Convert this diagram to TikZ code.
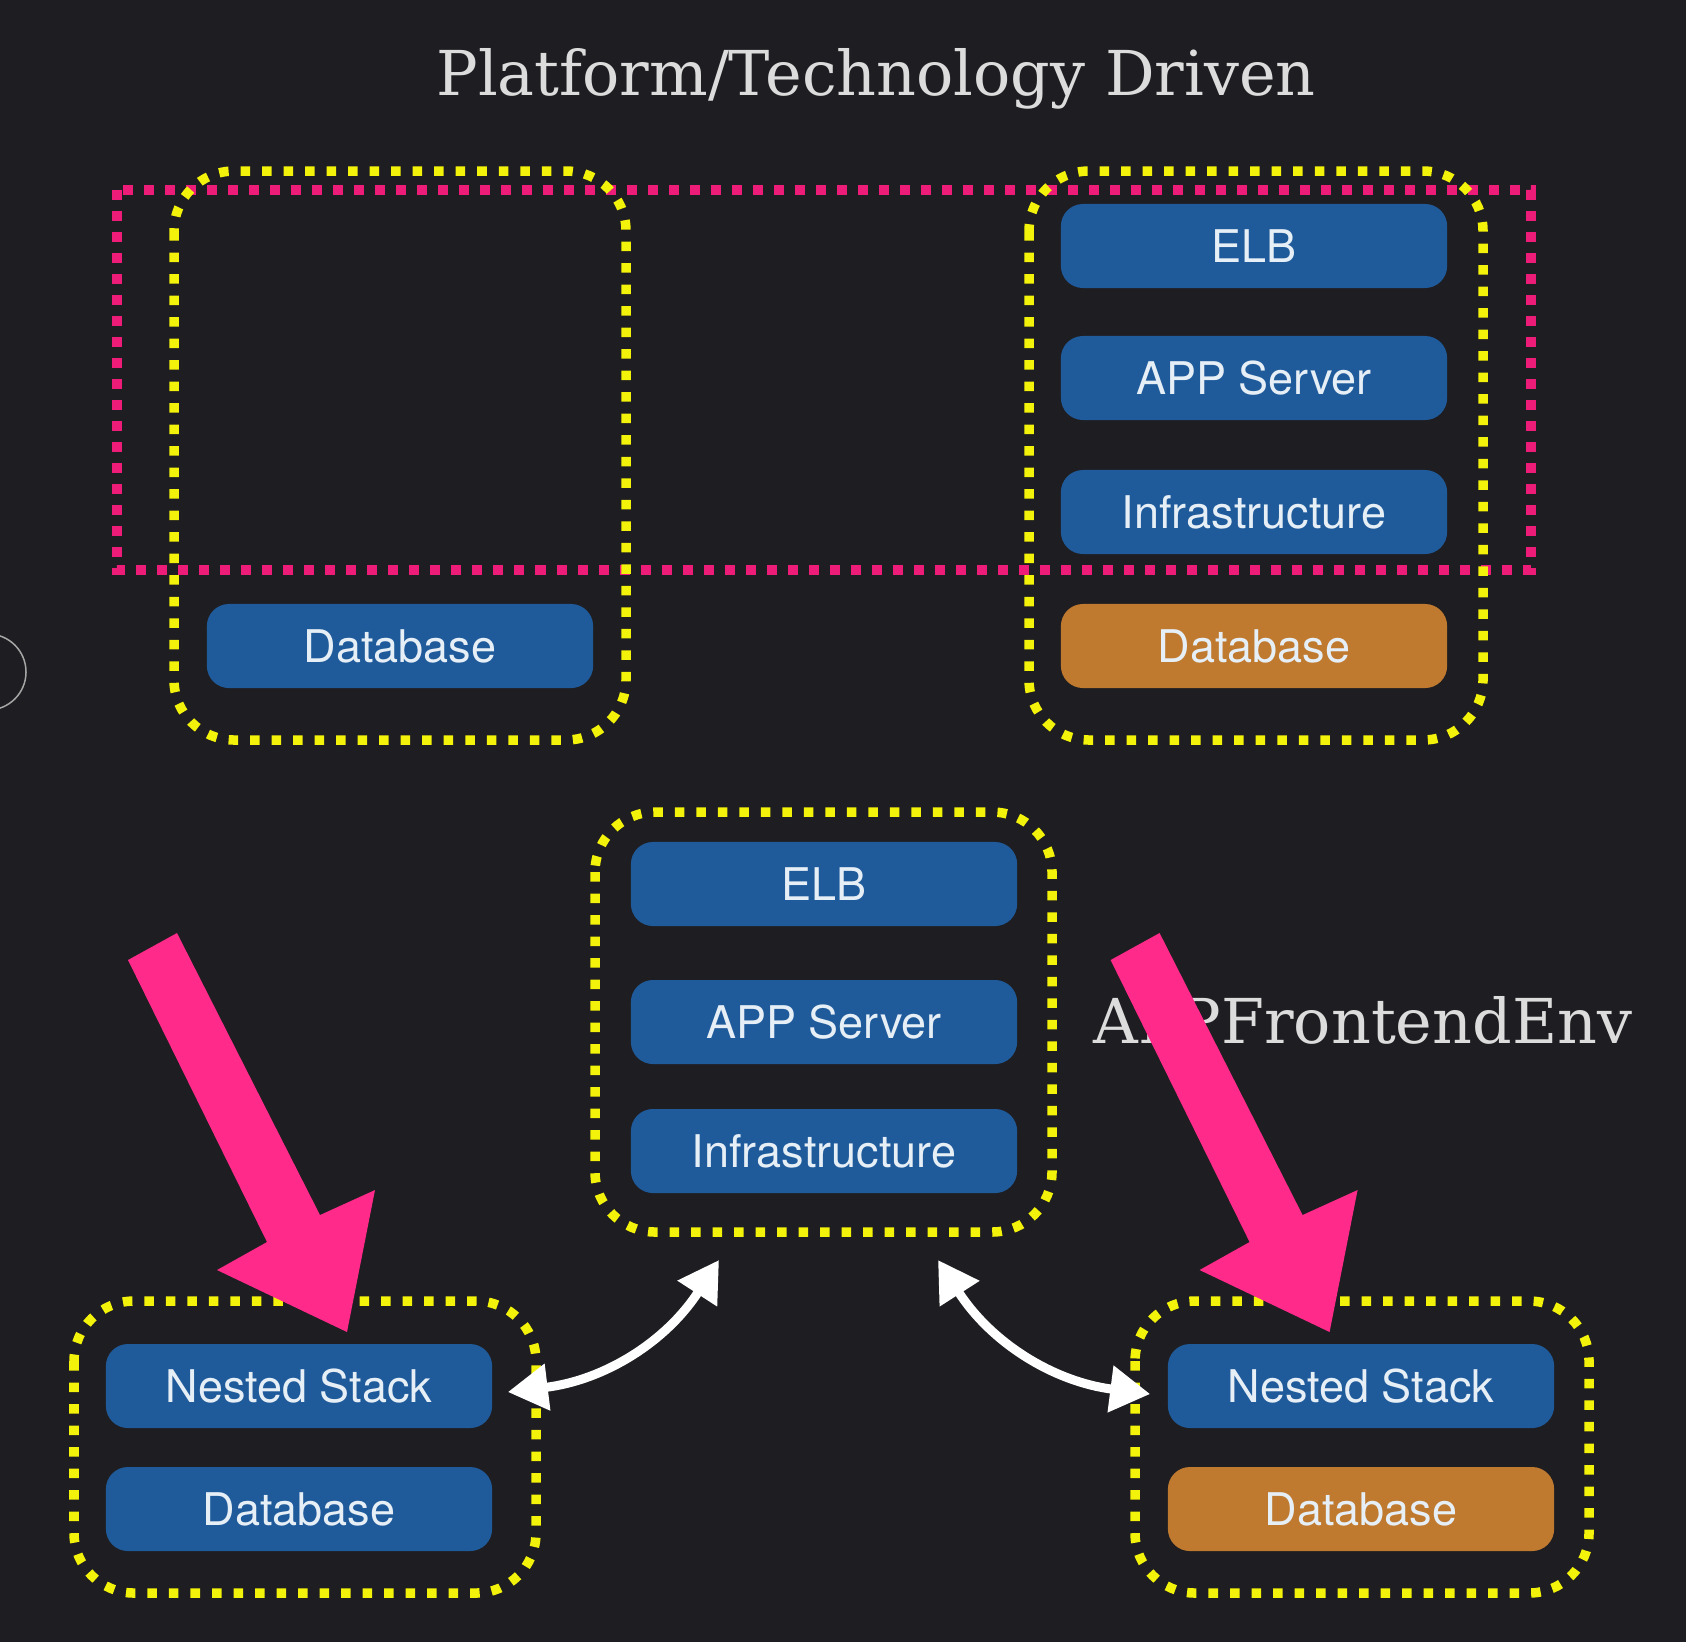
\documentclass[tikz,border=0pt]{standalone}
\usepackage{fontspec}
\setsansfont{TeX Gyre Heros}
\newfontfamily\slabfont{DejaVu Serif}
\usepackage{tikz}
\usetikzlibrary{arrows.meta}
\definecolor{bgdark}{HTML}{1E1D21}
\definecolor{tierblue}{HTML}{1F5B9B}
\definecolor{dborange}{HTML}{C07A30}
\definecolor{tiertext}{HTML}{E6EEF6}
\definecolor{stackyellow}{HTML}{F2F20A}
\definecolor{layerpink}{HTML}{EC1C78}
\definecolor{arrowpink}{HTML}{FF2A8A}
\definecolor{titlegray}{HTML}{DCDCDC}

\begin{document}
\begin{tikzpicture}[x=0.01cm, y=-0.01cm,
    tier/.style={fill=tierblue, rounded corners=0.22cm, minimum width=3.86cm, minimum height=0.84cm, inner sep=0pt, text=tiertext, font=\sffamily\fontsize{12.8}{15}\selectfont},
    dbtier/.style={tier, fill=dborange},
    stack/.style={draw=stackyellow, line width=0.095cm, dash pattern=on 0.095cm off 0.12cm, rounded corners=0.6cm},
    layer/.style={draw=layerpink, line width=0.1cm, dash pattern=on 0.1cm off 0.11cm},
    link/.style={draw=white, line width=0.09cm, {Triangle[length=0.4cm,width=0.45cm]}-{Triangle[length=0.4cm,width=0.45cm]}},
    slab/.style={text=titlegray, font=\slabfont\fontsize{17.6}{20}\selectfont}]
        \fill[bgdark] (0,0) rectangle (1686,1642);
        \useasboundingbox (0,0) rectangle (1686,1642);
        \draw[gray!70, line width=0.015cm] (-12,672) circle (0.38cm);
        \node[slab, anchor=base] (title) at (876,95) {Platform/Technology Driven};
        \draw[layer] (117,190) rectangle (1531,570);
        \draw[stack] (174,171) rectangle (626,740);
        \draw[stack] (1029,171) rectangle (1483,740);
        \draw[stack] (595,812) rectangle (1052,1232);
        \draw[stack] (74,1301) rectangle (536,1593);
        \draw[stack] (1135,1301) rectangle (1589,1593);
        \node[tier] (dbl) at (400,646) {Database};
        \node[tier] (elbr) at (1254,246) {ELB};
        \node[tier] (appr) at (1254,378) {APP Server};
        \node[tier] (infr) at (1254,512) {Infrastructure};
        \node[dbtier] (dbr) at (1254,646) {Database};
        \node[tier] (elbm) at (824,884) {ELB};
        \node[tier] (appm) at (824,1022) {APP Server};
        \node[tier] (infm) at (824,1151) {Infrastructure};
        \node[slab, anchor=base west] (envlabel) at (1081,1043) {APPFrontendEnv};
        \node[tier] (nsl) at (299,1386) {Nested Stack};
        \node[tier] (dbbl) at (299,1509) {Database};
        \node[tier] (nsr) at (1361,1386) {Nested Stack};
        \node[dbtier] (dbbr) at (1361,1509) {Database};
        \coordinate (upl) at (719,1260);
        \coordinate (upr) at (938,1260);
        \draw[link] ([xshift=0.15cm, yshift=-0.06cm]nsl.east) to[bend right=25] (upl);
        \draw[link] (upr) to[bend right=25] ([xshift=-0.17cm, yshift=-0.08cm]nsr.west);
        \fill[arrowpink] (128,960) -- (267,1242) -- (217,1270) -- (347,1332) -- (375,1190) -- (320,1215) -- (177,933) -- cycle;
        \fill[arrowpink, xshift=9.82cm] (128,960) -- (267,1242) -- (217,1270) -- (347,1332) -- (375,1190) -- (320,1215) -- (177,933) -- cycle;
\end{tikzpicture}
\end{document}
